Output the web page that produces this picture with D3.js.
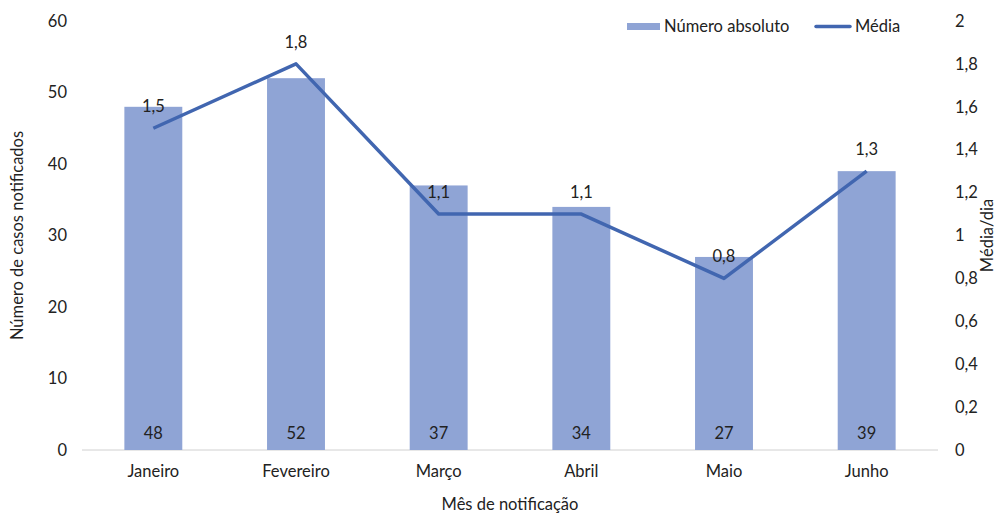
<!DOCTYPE html>
<html>
<head>
<meta charset="utf-8">
<script src="https://cdn.jsdelivr.net/npm/d3@7"></script>
<style>
    body {margin: 0; background: #fff;}
    text {font-family: Lato, "Open Sans", sans-serif; fill: #222;}
    .axis path, .axis line {display: none;}
</style>
</head>
<body>
<div id="container"></div>
<script>
const months = ['Janeiro', 'Fevereiro', 'Março', 'Abril', 'Maio', 'Junho'];
const counts = [48, 52, 37, 34, 27, 39];
const means = [1.5, 1.8, 1.1, 1.1, 0.8, 1.3];
const leftTicks = [0, 10, 20, 30, 40, 50, 60];
const rightTicks = [0, 0.2, 0.4, 0.6, 0.8, 1, 1.2, 1.4, 1.6, 1.8, 2];

const w = 999, h = 513;
const margin = {top: 21, left: 82, right: 61, bottom: 63};
const barColor = '#8FA4D5';
const lineColor = '#4166B0';
const fs = 16.5;
const fmt = v => String(v).replace('.', ',');

const svg = d3.select('#container').append('svg')
    .attr('width', w).attr('height', h);

const x = d3.scaleBand().domain(months)
    .range([margin.left, w - margin.right]).paddingInner(0.594).paddingOuter(0.297);
const y = d3.scaleLinear().domain([0, 60]).range([h - margin.bottom, margin.top]);
const y2 = d3.scaleLinear().domain([0, 2]).range([h - margin.bottom, margin.top]);
const base = h - margin.bottom;

// baseline
svg.append('line')
    .attr('x1', margin.left).attr('x2', w - margin.right)
    .attr('y1', base).attr('y2', base)
    .attr('stroke', '#d0d0d0').attr('stroke-width', 1);

// bars
svg.append('g').selectAll('rect').data(months).join('rect')
    .attr('x', d => x(d)).attr('width', x.bandwidth())
    .attr('y', (d, i) => y(counts[i])).attr('height', (d, i) => base - y(counts[i]))
    .attr('fill', barColor);

// bar labels
svg.append('g').selectAll('text').data(months).join('text')
    .attr('x', d => x(d) + x.bandwidth() / 2).attr('y', base - 11)
    .attr('text-anchor', 'middle').attr('font-size', fs)
    .text((d, i) => counts[i]);

// line
const line = d3.line()
    .x((d, i) => x(months[i]) + x.bandwidth() / 2)
    .y(d => y2(d));
svg.append('path').datum(means)
    .attr('d', line).attr('fill', 'none')
    .attr('stroke', lineColor).attr('stroke-width', 3.5)
    .attr('stroke-linejoin', 'round');

svg.append('g').selectAll('text').data(means).join('text')
    .attr('x', (d, i) => x(months[i]) + x.bandwidth() / 2).attr('y', d => y2(d) - 16)
    .attr('text-anchor', 'middle').attr('font-size', fs)
    .text(d => fmt(d));

// axes
const gx = svg.append('g').attr('class', 'axis')
    .attr('transform', `translate(0,${base})`)
    .call(d3.axisBottom(x).tickSize(0).tickPadding(15));
gx.selectAll('text').attr('font-size', fs);

const gl = svg.append('g').attr('class', 'axis')
    .attr('transform', `translate(${margin.left - 15},0)`)
    .call(d3.axisLeft(y).tickValues(leftTicks).tickSize(0).tickPadding(0));
gl.selectAll('text').attr('font-size', fs);

const gr = svg.append('g').attr('class', 'axis')
    .attr('transform', `translate(${w - margin.right + 17},0)`)
    .call(d3.axisRight(y2).tickValues(rightTicks).tickSize(0).tickPadding(0).tickFormat(fmt));
gr.selectAll('text').attr('font-size', fs);

// axis titles
svg.append('text')
    .attr('transform', `translate(23,${(margin.top + base) / 2}) rotate(-90)`)
    .attr('text-anchor', 'middle').attr('font-size', fs)
    .text('Número de casos notificados');
svg.append('text')
    .attr('transform', `translate(993,${(margin.top + base) / 2}) rotate(-90)`)
    .attr('text-anchor', 'middle').attr('font-size', fs)
    .text('Média/dia');
svg.append('text')
    .attr('x', (margin.left + w - margin.right) / 2).attr('y', 510)
    .attr('text-anchor', 'middle').attr('font-size', fs)
    .text('Mês de notificação');

// legend
const lg = svg.append('g');
lg.append('rect').attr('x', 627).attr('y', 23).attr('width', 33).attr('height', 7).attr('fill', barColor);
lg.append('text').attr('x', 664).attr('y', 32).attr('font-size', fs).text('Número absoluto');
lg.append('line').attr('x1', 816).attr('x2', 850).attr('y1', 26.5).attr('y2', 26.5)
    .attr('stroke', lineColor).attr('stroke-width', 3.5).attr('stroke-linecap', 'round');
lg.append('text').attr('x', 855).attr('y', 32).attr('font-size', fs).text('Média');
</script>
</body>
</html>
